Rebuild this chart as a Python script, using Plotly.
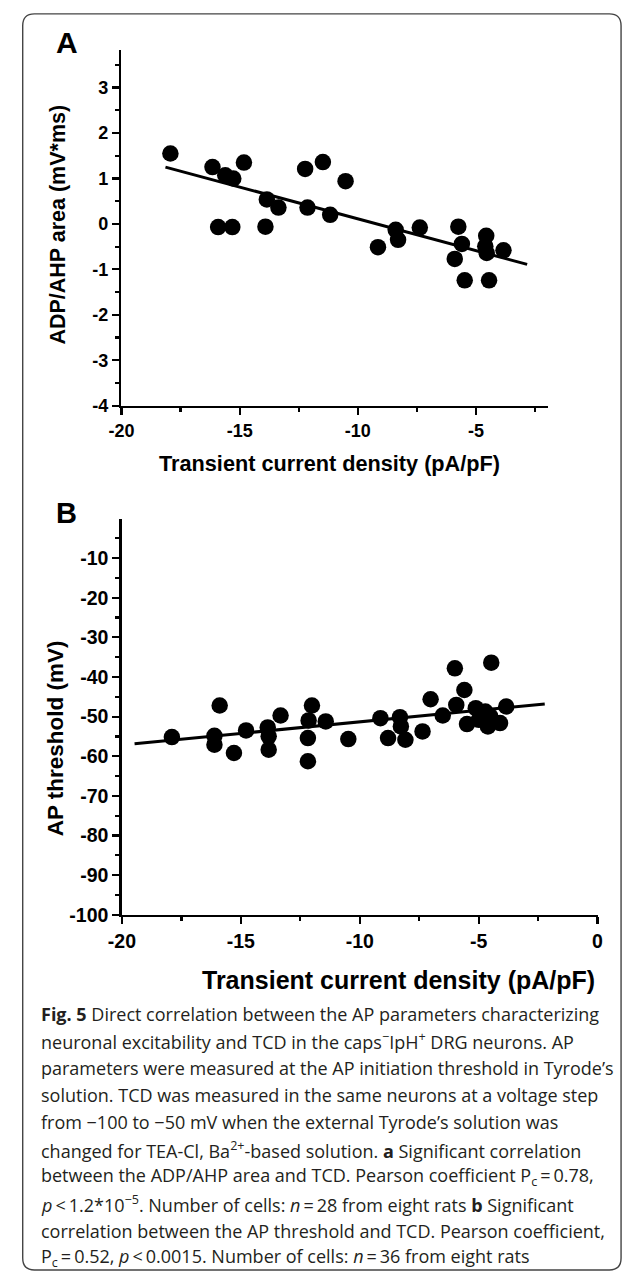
import plotly.graph_objects as go

W, H = 629, 1283

# ---------------- Panel A data ----------------
a_x = [-17.93, -16.15, -15.61, -15.27, -14.82, -15.91, -15.31, -13.85, -13.36, -13.91,
       -12.23, -11.48, -12.13, -11.17, -10.52, -9.15, -8.40, -8.30, -7.38, -5.75,
       -5.60, -5.90, -5.48, -4.57, -4.61, -4.55, -3.84, -4.45]
a_y = [1.55, 1.25, 1.07, 1.00, 1.35, -0.07, -0.07, 0.54, 0.36, -0.06,
       1.21, 1.36, 0.36, 0.20, 0.94, -0.51, -0.13, -0.35, -0.08, -0.06,
       -0.44, -0.77, -1.24, -0.26, -0.49, -0.64, -0.58, -1.24]
a_fit_x = [-18.14, -2.84]
a_fit_y = [1.25, -0.89]
a_xticks = [-20, -15, -10, -5]
a_yticks = [-4, -3, -2, -1, 0, 1, 2, 3]

# ---------------- Panel B data ----------------
b_x = [-17.90, -16.11, -16.11, -15.89, -15.29, -14.78, -13.87, -13.83, -13.83, -13.33,
       -12.18, -12.18, -12.15, -12.01, -11.43, -10.48, -9.13, -8.81, -8.31, -8.27,
       -8.08, -7.36, -7.02, -6.51, -6.00, -5.94, -5.60, -5.49, -5.12, -4.72,
       -4.61, -4.47, -4.10, -3.84, -4.99, -4.51]
b_y = [-55.15, -54.82, -57.08, -47.19, -59.17, -53.47, -52.72, -54.97, -58.34, -49.70,
       -61.26, -55.40, -50.96, -47.19, -51.21, -55.65, -50.38, -55.40, -50.13, -52.46,
       -55.83, -53.72, -45.60, -49.70, -37.81, -47.03, -43.27, -51.88, -47.86, -48.69,
       -52.46, -36.38, -51.63, -47.44, -50.80, -49.95]
b_fit_x = [-19.47, -2.22]
b_fit_y = [-56.83, -46.78]
b_xticks = [-20, -15, -10, -5, 0]
b_yticks = [-100, -90, -80, -70, -60, -50, -40, -30, -20, -10]
b_yminor = [-95, -85, -75, -65, -55, -45, -35, -25, -15, -5]

caption_lines = [
    "<b>Fig. 5</b> Direct correlation between the AP parameters characterizing",
    "neuronal excitability and TCD in the caps<sup>\u2212</sup>IpH<sup>+</sup> DRG neurons. AP",
    "parameters were measured at the AP initiation threshold in Tyrode\u2019s",
    "solution. TCD was measured in the same neurons at a voltage step",
    "from \u2212100 to \u221250 mV when the external Tyrode\u2019s solution was",
    "changed for TEA-Cl, Ba<sup>2+</sup>-based solution. <b>a</b> Significant correlation",
    "between the ADP/AHP area and TCD. Pearson coefficient P<sub>c</sub>\u2009=\u20090.78,",
    "<i>p</i>\u2009&lt;\u20091.2*10<sup>\u22125</sup>. Number of cells: <i>n</i>\u2009=\u200928 from eight rats <b>b</b> Significant",
    "correlation between the AP threshold and TCD. Pearson coefficient,",
    "P<sub>c</sub>\u2009=\u20090.52, <i>p</i>\u2009&lt;\u20090.0015. Number of cells: <i>n</i>\u2009=\u200936 from eight rats",
]

FONT = "Liberation Sans, Arial, Helvetica, sans-serif"
CAP_FONT = "Open Sans, Noto Sans, sans-serif"


def fx(p):
    return p / W


def fy(p):
    return 1 - p / H


fig = go.Figure()
mk = dict(color="black", size=16.5, line=dict(width=0))
fig.add_trace(go.Scatter(x=a_x, y=a_y, mode="markers", marker=mk, xaxis="x", yaxis="y", showlegend=False))
fig.add_trace(go.Scatter(x=a_fit_x, y=a_fit_y, mode="lines", line=dict(color="black", width=3),
                         xaxis="x", yaxis="y", showlegend=False))
fig.add_trace(go.Scatter(x=b_x, y=b_y, mode="markers", marker=mk, xaxis="x2", yaxis="y2", showlegend=False))
fig.add_trace(go.Scatter(x=b_fit_x, y=b_fit_y, mode="lines", line=dict(color="black", width=3),
                         xaxis="x2", yaxis="y2", showlegend=False))


def axis(domain, rng, tickvals, minor, anchor, fsize=18):
    d = dict(domain=domain, range=rng, tickvals=tickvals,
             ticktext=["<b>%s</b>" % v for v in tickvals],
             showline=True, linewidth=2.7, linecolor="black", ticks="outside", ticklen=7,
             tickwidth=2.2, tickcolor="black", showgrid=False, zeroline=False, anchor=anchor,
             tickfont=dict(family=FONT, size=fsize, color="black"),
             minor=dict(tickvals=minor, ticks="outside", ticklen=4, tickwidth=2.2, tickcolor="black",
                        showgrid=False))
    return d


a_xminor = [-17.5, -12.5, -7.5, -2.5]
a_yminor = [-3.5, -2.5, -1.5, -0.5, 0.5, 1.5, 2.5, 3.5]
b_xminor = [-17.5, -12.5, -7.5, -2.5]

fig.update_layout(
    width=W, height=H, margin=dict(l=0, r=0, t=0, b=0),
    paper_bgcolor="white", plot_bgcolor="white",
    xaxis=axis([fx(111), fx(551.7)], [-20, -1.95], a_xticks, a_xminor, "y", 18),
    yaxis=axis([fy(409.3), fy(50.7)], [-4, 3.82], a_yticks, a_yminor, "x", 18),
    xaxis2=axis([fx(111.5), fx(602.7)], [-20, 0], b_xticks, b_xminor, "y2", 19.5),
    yaxis2=axis([fy(922.7), fy(523)], [-100, 0], b_yticks, b_yminor, "x2", 19.5),
)

ann = []
ann.append(dict(text="<b>A</b>", x=fx(55), y=fy(43), font=dict(family=FONT, size=30, color="black")))
ann.append(dict(text="<b>B</b>", x=fx(54), y=fy(517), font=dict(family=FONT, size=29, color="black")))
ann.append(dict(text="<b>Transient current density (pA/pF)</b>", x=fx(326), y=fy(468),
                font=dict(family=FONT, size=21.7, color="black")))
ann.append(dict(text="<b>Transient current density (pA/pF)</b>", x=fx(397), y=fy(988),
                font=dict(family=FONT, size=25, color="black")))
ann.append(dict(text="<b>ADP/AHP area (mV*ms)</b>", x=fx(45), y=fy(227), textangle=-90,
                font=dict(family=FONT, size=21.5, color="black")))
ann.append(dict(text="<b>AP threshold (mV)</b>", x=fx(43), y=fy(745), textangle=-90,
                font=dict(family=FONT, size=22.5, color="black")))
for a in ann:
    a.update(xref="paper", yref="paper", showarrow=False, xanchor="center", yanchor="middle")

cap_y0, cap_dy = 1023, 27.3
for i, line in enumerate(caption_lines):
    ann.append(dict(text=line, x=fx(26), y=fy(cap_y0 + i * cap_dy), xref="paper", yref="paper",
                    showarrow=False, xanchor="left", yanchor="middle",
                    font=dict(family=CAP_FONT, size=18, color="#231f20")))
fig.update_layout(annotations=ann)

# rounded border
x0, x1, y0, y1, r = 9, 627, 14, 1281, 12
rx, ry = r / W, r / H
X0, X1, Y0, Y1 = fx(x0), fx(x1), fy(y1), fy(y0)
path = (f"M {X0+rx},{Y1} L {X1-rx},{Y1} Q {X1},{Y1} {X1},{Y1-ry} L {X1},{Y0+ry} "
        f"Q {X1},{Y0} {X1-rx},{Y0} L {X0+rx},{Y0} Q {X0},{Y0} {X0},{Y0+ry} L {X0},{Y1-ry} "
        f"Q {X0},{Y1} {X0+rx},{Y1} Z")
fig.add_shape(type="path", path=path, xref="paper", yref="paper",
              line=dict(color="#444444", width=1.4), fillcolor="rgba(0,0,0,0)")

fig.write_html("out.html", config={"displayModeBar": False, "staticPlot": True},
               post_script="document.body.style.margin='0';document.body.style.overflow='hidden';")
